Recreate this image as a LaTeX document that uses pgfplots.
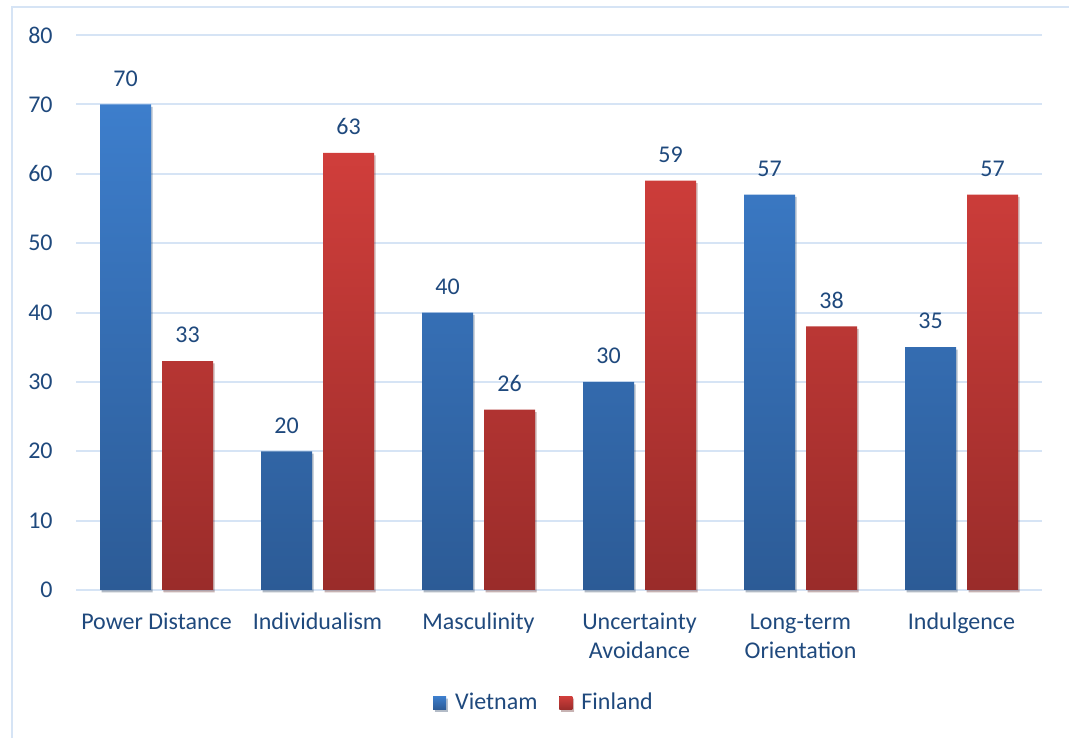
\documentclass[border=0pt]{standalone}
\usepackage{pgfplots}
\pgfplotsset{compat=1.18}
\usepackage{fontspec}
\setmainfont{Carlito}
\definecolor{txt}{HTML}{1F497D}
\definecolor{gridc}{HTML}{D6E4F5}
\definecolor{btop}{HTML}{3D7ECC}
\definecolor{bbot}{HTML}{2C5B96}
\definecolor{rtop}{HTML}{D03E3B}
\definecolor{rbot}{HTML}{9A2C2A}
\begin{document}
\begin{tikzpicture}[x=1pt,y=1pt]
\path[use as bounding box] (0,0) rectangle (534.5,369);
\draw[gridc, line width=1pt] (6,0) -- (6,365.5) -- (540,365.5);
\begin{axis}[
  at={(38pt,74pt)}, anchor=south west,
  scale only axis, width=483pt, height=277.5pt,
  ybar=5.5pt, bar width=25.5pt,
  xmin=-0.5, xmax=5.5, ymin=0, ymax=80,
  ytick={0,10,...,80},
  xtick={0,...,5},
  xticklabels={\strut Power Distance,\strut Individualism,\strut Masculinity,\strut Uncertainty\\Avoidance,\strut Long-term\\Orientation,\strut Indulgence},
  axis line style={draw=none},
  major tick length=0pt,
  xmajorgrids=false, ymajorgrids=true,
  major grid style={draw=gridc, line width=1pt},
  every tick label/.append style={font=\fontsize{12}{14.5}\selectfont, text=txt, inner sep=0pt},
  x tick label style={align=center, anchor=north, yshift=-9.4pt},
  y tick label style={anchor=east, xshift=-11.5pt},
  /pgf/number format/assume math mode=true,
  nodes near coords,
  every node near coord/.append style={font=\fontsize{12}{14.5}\selectfont, text=txt, yshift=5.5pt},
  legend style={at={(rel axis cs:0.4855,-0.2036)}, anchor=center, draw=none, fill=none,
    legend columns=2, font=\fontsize{12}{14.5}\selectfont, text=txt,
    nodes={inner xsep=2pt},
    /tikz/every odd column/.append style={column sep=2.5pt},
    /tikz/every even column/.append style={column sep=9pt}},
  legend image code/.code={\fill[#1] (0pt,-3.25pt) rectangle (6.5pt,3.25pt);},
  clip=false,
]
\addplot[draw=none, top color=btop, bottom color=bbot,
  preaction={fill=black, fill opacity=0.18, transform canvas={xshift=0.8pt, yshift=-1.2pt}}]
  coordinates {(0,70) (1,20) (2,40) (3,30) (4,57) (5,35)};
\addplot[draw=none, top color=rtop, bottom color=rbot,
  preaction={fill=black, fill opacity=0.18, transform canvas={xshift=0.8pt, yshift=-1.2pt}}]
  coordinates {(0,33) (1,63) (2,26) (3,59) (4,38) (5,57)};
\legend{Vietnam,Finland}
\end{axis}
\end{tikzpicture}
\end{document}
